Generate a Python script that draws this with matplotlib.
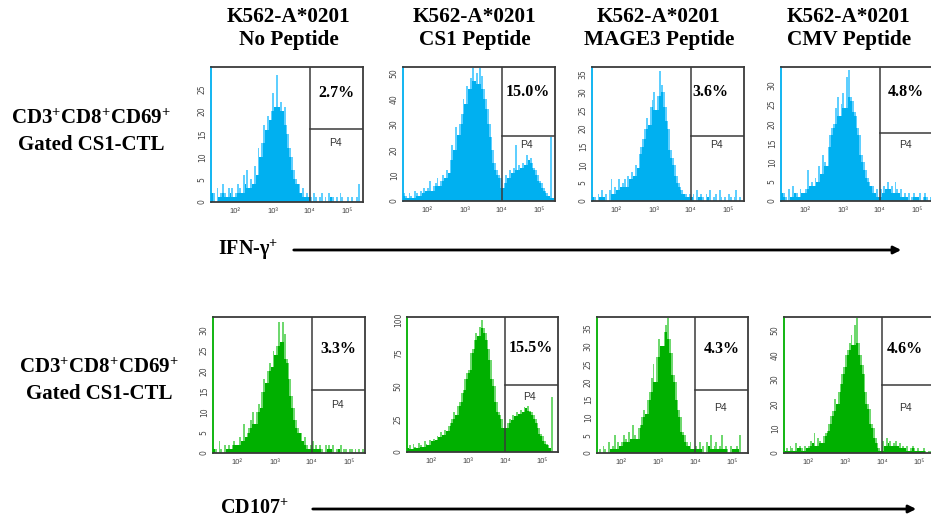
import numpy as np
import matplotlib
matplotlib.use('Agg')
import matplotlib.pyplot as plt
from matplotlib.patches import FancyArrowPatch
import matplotlib.transforms as mtransforms

plt.rcParams['mathtext.fontset'] = 'custom'
plt.rcParams['mathtext.rm'] = 'Liberation Serif:bold'
plt.rcParams['mathtext.bf'] = 'Liberation Serif:bold'
plt.rcParams['mathtext.it'] = 'Liberation Serif:bold'

# log10 axis range and bin width (0.05 decade per channel group)
X0, X1 = 1.35, 5.43
BIN = 0.05
GATE = 4.0

# IFN-gamma histograms (counts per bin, starting at 10^1.35)
ifn_none = [2, 2, 0, 3, 1, 2, 4, 2, 1, 3, 2, 3, 1,
            2, 4, 3, 2, 6, 4, 7, 3, 5, 4,
            8, 6, 12, 10, 13, 17,
            16, 19, 18, 20, 24, 21,
            28, 21, 22, 20, 21, 17,
            15, 12, 10, 7, 5, 4,
            4, 2, 3, 1, 2, 1,
            1, 0, 2, 1, 0, 1, 2, 0, 1, 0, 2, 1, 1, 0, 1, 0, 2, 1, 0, 0, 1, 0, 1, 0, 0, 1, 4, 0]
ifn_cs1 = [3, 2, 1, 3, 2, 1, 4, 3, 2, 4, 3, 5, 4,
           5, 8, 4, 6, 7, 9, 6, 8, 10, 9,
           12, 11, 16, 22, 20, 29,
           26, 30, 34, 40, 38, 45,
           44, 48, 52, 47, 50, 46,
           52, 49, 44, 40, 36, 30,
           25, 20, 15, 12, 10, 9,
           5, 7, 10, 9, 12, 11, 13, 22,
           12, 14, 13, 15, 14, 18, 16, 17,
           15, 13, 12, 10, 8, 7, 5, 4,
           3, 2, 25, 1]
ifn_mage3 = [1, 1, 0, 2, 1, 3, 1, 2, 0, 3, 6, 2, 4,
             3, 6, 4, 5, 6, 4, 7, 6, 8, 7,
             10, 9, 13, 15, 17, 20,
             23, 21, 26, 28, 30, 25,
             29, 36, 32, 30, 26, 22,
             20, 14, 12, 10, 7, 5,
             4, 3, 2, 2, 1, 2,
             1, 2, 0, 3, 1, 2, 1, 0, 2, 1, 3, 0, 1, 2, 0, 3, 1, 0, 1, 0, 2, 1, 0, 1, 3, 0, 1, 0]
ifn_cmv = [2, 2, 1, 0, 3, 1, 4, 2, 2, 1, 3, 2, 2,
           3, 8, 4, 5, 4, 6, 5, 9, 7, 12,
           10, 9, 14, 17, 19, 20,
           24, 27, 22, 25, 28, 24,
           32, 34, 27, 26, 23, 22,
           19, 17, 12, 10, 8, 6,
           5, 4, 4, 2, 3, 1,
           3, 2, 4, 3, 5, 3, 4, 2, 5, 3, 2, 3, 1, 2, 1, 2, 0, 1, 2, 1, 1, 2, 0, 1, 2, 1, 0, 1]

# CD107 histograms
cd107_none = [1, 1, 0, 3, 1, 0, 2, 1, 2, 1, 2, 3, 2,
              2, 4, 3, 7, 4, 5, 6, 8, 10, 7,
              10, 12, 11, 15, 18, 17,
              20, 22, 21, 25, 24, 26,
              32, 27, 32, 29, 23, 22,
              18, 14, 11, 8, 6, 5,
              5, 3, 4, 2, 1, 2,
              3, 1, 2, 1, 2, 1, 0, 2, 1, 2, 1, 2, 0, 1, 1, 2, 0, 1, 1, 0, 1, 1, 0, 1, 0, 1, 0, 1]
cd107_cs1 = [3, 5, 2, 6, 4, 3, 7, 5, 4, 8, 6, 5, 9,
             8, 10, 9, 12, 11, 15, 13, 17, 16, 20,
             22, 25, 30, 28, 35, 38,
             45, 47, 55, 60, 62, 75,
             78, 85, 90, 88, 95, 100,
             94, 90, 85, 78, 70, 55,
             50, 38, 30, 28, 25, 18,
             18, 22, 25, 24, 28, 27, 30, 29,
             32, 30, 34, 33, 35, 31, 30, 28,
             25, 22, 18, 14, 12, 8, 6, 5,
             3, 42, 0, 0]
cd107_mage3 = [0, 1, 0, 2, 1, 0, 3, 1, 2, 5, 1, 3, 2,
               3, 5, 4, 3, 6, 4, 8, 5, 4, 7,
               8, 10, 12, 11, 15, 17,
               21, 25, 20, 27, 32, 30,
               30, 34, 36, 38, 32, 28,
               22, 20, 15, 12, 10, 6,
               5, 3, 2, 3, 1, 1,
               2, 1, 3, 1, 2, 0, 3, 2, 5, 1, 2, 3, 1, 2, 5, 1, 2, 1, 0, 2, 1, 1, 2, 1, 5, 0, 0, 0]
cd107_cmv = [1, 2, 1, 3, 2, 1, 4, 2, 3, 2, 1, 3, 2,
             3, 5, 4, 8, 3, 6, 5, 4, 7, 8,
             9, 12, 15, 17, 22, 20,
             25, 28, 32, 35, 40, 42,
             45, 48, 44, 52, 55, 45,
             40, 36, 32, 25, 20, 18,
             12, 10, 6, 4, 2, 1,
             5, 3, 6, 4, 5, 3, 4, 5, 3, 4, 2, 3, 2, 3, 1, 2, 3, 2, 1, 2, 1, 1, 2, 1, 0, 1, 1, 0]

column_titles = ['K562-A*0201\nNo Peptide', 'K562-A*0201\nCS1 Peptide',
                 'K562-A*0201\nMAGE3 Peptide', 'K562-A*0201\nCMV Peptide']
row_label = 'CD3$^{+}$CD8$^{+}$CD69$^{+}$\nGated CS1-CTL'
ifn_pct = ['2.7%', '15.0%', '3.6%', '4.8%']
cd107_pct = ['3.3%', '15.5%', '4.3%', '4.6%']
ifn_ymax = [29.8, 52.5, 37.0, 34.7]
cd107_ymax = [33.2, 102.3, 38.2, 55.4]
ifn_yticks = [np.arange(0, 30, 5), np.arange(0, 51, 10), np.arange(0, 36, 5), np.arange(0, 31, 5)]
cd107_yticks = [np.arange(0, 31, 5), np.arange(0, 101, 25), np.arange(0, 36, 5), np.arange(0, 51, 10)]
xtick_pos = [2, 3, 4, 5]
xtick_labels = ['10²', '10³', '10⁴', '10⁵']

W, H = 931, 525
fig = plt.figure(figsize=(W / 100, H / 100), dpi=100)


def px_axes(left, top, right, bottom):
    return fig.add_axes([left / W, 1 - bottom / H, (right - left) / W, (bottom - top) / H])


def draw_panel(ax, counts, ymax, yticks, light, dark, pct, box_y, pct_pos, p4_pos):
    counts = np.asarray(counts, float)
    edges = X0 + BIN * np.arange(len(counts) + 1)
    ax.stairs(counts, edges, fill=True, color=light, lw=0)
    padded = np.pad(counts, 1, mode='edge')
    core = np.minimum(np.minimum(padded[:-2], padded[2:]), counts)
    ax.stairs(core, edges, fill=True, color=dark, lw=0)

    ax.set_xlim(X0, X1)
    ax.set_ylim(0, ymax)
    gx = (GATE - X0) / (X1 - X0)
    ax.axvline(GATE, color='#3a3a3a', lw=1.1)
    ax.axhline(box_y * ymax, xmin=gx, xmax=1, color='#3a3a3a', lw=1.1)

    trans = mtransforms.blended_transform_factory(ax.transData, ax.transAxes)
    ax.text(pct_pos[0], pct_pos[1], pct, transform=trans, ha='center', va='center',
            family='Liberation Serif', weight='bold', fontsize=11.5)
    ax.text(p4_pos[0], p4_pos[1], 'P4', transform=trans, ha='center', va='center',
            family='Liberation Sans', fontsize=7.5, color='#333333')

    ax.set_xticks(xtick_pos)
    ax.set_xticklabels(xtick_labels, family=['Liberation Sans', 'DejaVu Sans'])
    ax.set_yticks(yticks)
    ax.set_yticklabels([str(v) for v in yticks], rotation=90, va='center')
    ax.tick_params(length=0, labelsize=5.5, labelcolor='#444444')
    ax.tick_params(axis='x', pad=4)
    ax.tick_params(axis='y', pad=3)
    for side in ['top', 'right', 'bottom']:
        ax.spines[side].set_color('#3a3a3a')
        ax.spines[side].set_linewidth(1.3)
    ax.spines['left'].set_color(dark)
    ax.spines['left'].set_linewidth(1.3)


blue_l, blue_d = '#5fcfff', '#00b0f0'
green_l, green_d = '#6fd86f', '#00b000'

top_boxes = [(211, 67, 363, 202), (403, 67, 555, 201), (592, 67, 744, 201), (781, 67, 933, 201)]
bot_boxes = [(213, 317, 365, 453), (407, 317, 558, 452), (597, 317, 748, 453), (784, 317, 935, 453)]
ifn_data = [ifn_none, ifn_cs1, ifn_mage3, ifn_cmv]
cd107_data = [cd107_none, cd107_cs1, cd107_mage3, cd107_cmv]
top_box_y = [0.54, 0.485, 0.485, 0.507]
bot_box_y = [0.463, 0.496, 0.463, 0.5]
top_pct_pos = [(4.72, 0.81), (4.70, 0.81), (4.52, 0.81), (4.70, 0.81)]
bot_pct_pos = [(4.71, 0.765), (4.70, 0.77), (4.72, 0.765), (4.62, 0.765)]
top_p4_pos = [(4.68, 0.435), (4.67, 0.42), (4.70, 0.42), (4.68, 0.42)]
bot_p4_pos = [(4.68, 0.353), (4.67, 0.41), (4.69, 0.33), (4.64, 0.33)]

for i in range(4):
    ax = px_axes(*top_boxes[i])
    draw_panel(ax, ifn_data[i], ifn_ymax[i], ifn_yticks[i], blue_l, blue_d,
               ifn_pct[i], top_box_y[i], top_pct_pos[i], top_p4_pos[i])
    ax = px_axes(*bot_boxes[i])
    draw_panel(ax, cd107_data[i], cd107_ymax[i], cd107_yticks[i], green_l, green_d,
               cd107_pct[i], bot_box_y[i], bot_pct_pos[i], bot_p4_pos[i])

title_x = [289, 475, 659, 849]
for x, t in zip(title_x, column_titles):
    fig.text(x / W, 1 - 28 / H, t, ha='center', va='center', family='Liberation Serif',
             weight='bold', fontsize=15.3, linespacing=1.2)

fig.text(91 / W, 1 - 132 / H, row_label, ha='center', va='center', family='Liberation Serif',
         weight='bold', fontsize=15, linespacing=1.4)
fig.text(99 / W, 1 - 381 / H, row_label, ha='center', va='center', family='Liberation Serif',
         weight='bold', fontsize=15, linespacing=1.4)

# axis captions with long arrows
fig.text(218 / W, 1 - 250 / H, 'IFN-γ$^{+}$', ha='left', va='center', family='Liberation Serif',
         weight='bold', fontsize=14.5)
fig.text(220 / W, 1 - 509 / H, 'CD107$^{+}$', ha='left', va='center', family='Liberation Serif',
         weight='bold', fontsize=14.5)
for x0, x1, y in [(291, 904, 250), (310, 919, 509)]:
    arr = FancyArrowPatch((x0 / W, 1 - y / H), (x1 / W, 1 - y / H), transform=fig.transFigure,
                          arrowstyle='-|>', mutation_scale=11, lw=2, color='black')
    fig.patches.append(arr)

fig.savefig('out.png', dpi=100)
